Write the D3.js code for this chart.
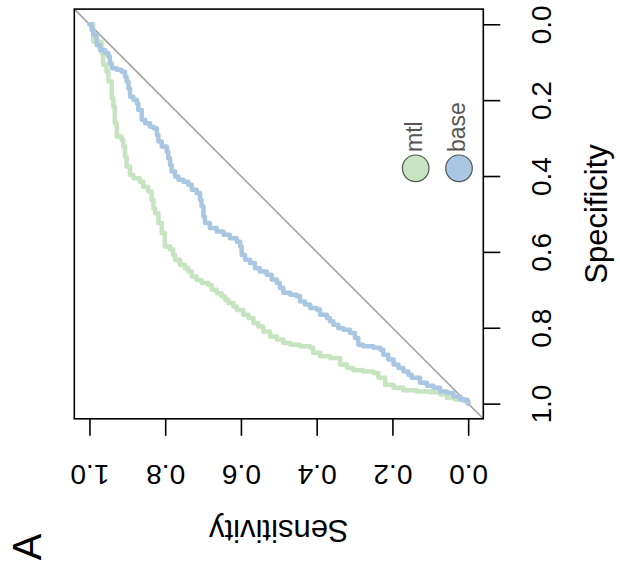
<!DOCTYPE html>
<html>
<head>
<meta charset="utf-8">
<script src="https://cdn.jsdelivr.net/npm/d3@7"></script>
<style>
  html, body { margin: 0; padding: 0; background: #fff; }
  svg { display: block; font-family: "Liberation Sans", Arial, Helvetica, sans-serif; }
</style>
</head>
<body>
<svg id="chart" width="620" height="571"></svg>
<script>
// ---- data (sensitivity, specificity) ----
const seriesNames = ["mtl", "base"];
const seriesColors = ["#c6e4bf", "#a9c7e2"];
const tickValues = [0, 0.2, 0.4, 0.6, 0.8, 1.0];

const mtlSens = [1.000,0.990,0.968,0.964,0.955,0.950,0.941,0.937,0.933,0.928,0.915,0.911,0.906,0.902,0.893,0.884,0.867,0.858,0.845,0.836,0.831,0.827,0.818,0.809,0.801,0.787,0.779,0.774,0.761,0.748,0.739,0.730,0.717,0.704,0.686,0.677,0.664,0.651,0.642,0.633,0.620,0.611,0.594,0.580,0.567,0.554,0.541,0.523,0.505,0.488,0.470,0.444,0.417,0.409,0.391,0.365,0.338,0.320,0.303,0.277,0.250,0.237,0.219,0.197,0.171,0.136,0.100,0.074,0.056,0.034,0.012,0.000];
const mtlSpec = [0.000,0.046,0.076,0.107,0.125,0.151,0.195,0.217,0.261,0.296,0.305,0.322,0.349,0.375,0.397,0.406,0.415,0.428,0.441,0.463,0.485,0.498,0.524,0.551,0.586,0.594,0.608,0.621,0.634,0.643,0.652,0.665,0.674,0.682,0.687,0.700,0.709,0.717,0.726,0.735,0.744,0.753,0.766,0.774,0.788,0.797,0.810,0.823,0.831,0.840,0.845,0.849,0.853,0.866,0.875,0.880,0.897,0.906,0.912,0.915,0.919,0.932,0.950,0.958,0.965,0.968,0.970,0.976,0.985,0.989,0.994,1.000];

const baseSens = [1.000,0.994,0.990,0.981,0.972,0.959,0.950,0.946,0.941,0.928,0.915,0.906,0.902,0.897,0.893,0.884,0.875,0.871,0.862,0.853,0.840,0.831,0.822,0.818,0.809,0.796,0.792,0.787,0.783,0.774,0.765,0.752,0.739,0.730,0.717,0.708,0.704,0.699,0.695,0.682,0.664,0.646,0.629,0.611,0.602,0.598,0.589,0.576,0.563,0.550,0.532,0.519,0.505,0.497,0.488,0.470,0.453,0.444,0.431,0.417,0.400,0.391,0.373,0.365,0.356,0.343,0.329,0.312,0.299,0.290,0.277,0.250,0.232,0.224,0.211,0.197,0.184,0.171,0.158,0.149,0.127,0.109,0.092,0.074,0.056,0.039,0.021,0.003,0.000];
const baseSpec = [0.000,0.015,0.028,0.055,0.068,0.076,0.085,0.103,0.116,0.120,0.125,0.138,0.151,0.169,0.191,0.199,0.208,0.226,0.252,0.261,0.270,0.274,0.292,0.309,0.322,0.336,0.353,0.371,0.388,0.401,0.410,0.415,0.423,0.436,0.445,0.463,0.480,0.507,0.524,0.537,0.546,0.555,0.564,0.573,0.586,0.608,0.621,0.629,0.643,0.652,0.660,0.673,0.682,0.695,0.708,0.713,0.717,0.731,0.739,0.748,0.752,0.766,0.774,0.783,0.792,0.801,0.805,0.814,0.827,0.845,0.849,0.853,0.858,0.871,0.884,0.897,0.906,0.915,0.924,0.932,0.945,0.953,0.958,0.968,0.972,0.981,0.989,0.994,1.000];

// ---- layout ----
const svg = d3.select("#chart");
svg.append("rect").attr("width", 620).attr("height", 571).attr("fill", "#fff");

const x = d3.scaleLinear().domain([1.04, -0.04]).range([74.3, 483.3]); // sensitivity
const y = d3.scaleLinear().domain([-0.04, 1.04]).range([9.1, 418.8]); // specificity

// diagonal
svg.append("line")
  .attr("x1", x(1.04)).attr("y1", y(-0.04))
  .attr("x2", x(-0.04)).attr("y2", y(1.04))
  .attr("stroke", "#a3a3a3").attr("stroke-width", 1.6);

const mkLine = d3.line().x(d => x(d[0])).y(d => y(d[1])).curve(d3.curveStepAfter);

const series = [
  { name: "mtl", pts: mtlSens.map((s, i) => [s, mtlSpec[i]]), color: seriesColors[0] },
  { name: "base", pts: baseSens.map((s, i) => [s, baseSpec[i]]), color: seriesColors[1] }
];
series.forEach(s => {
  svg.append("path").attr("d", mkLine(s.pts))
    .attr("fill", "none").attr("stroke", s.color)
    .attr("stroke-width", 4.5).attr("stroke-linejoin", "round").attr("stroke-linecap", "round");
});

// box
svg.append("rect")
  .attr("x", 74.3).attr("y", 9.1).attr("width", 483.3 - 74.3).attr("height", 418.8 - 9.1)
  .attr("fill", "none").attr("stroke", "#000").attr("stroke-width", 1.6);

// right axis (specificity)
const fmt = d3.format(".1f");
const gR = svg.append("g").attr("transform", "translate(483.3,0)")
  .call(d3.axisRight(y).tickValues(tickValues).tickSize(17).tickFormat(fmt));
gR.select(".domain").remove();
gR.selectAll(".tick line").attr("stroke", "#000").attr("stroke-width", 1.6);
gR.selectAll(".tick text")
  .attr("x", null).attr("dy", null).attr("y", null)
  .attr("transform", "translate(68,0) rotate(-90)")
  .attr("text-anchor", "middle")
  .attr("font-size", 28).attr("font-family", "Liberation Sans, Arial, sans-serif").attr("fill", "#000");

// bottom axis (sensitivity)
const gB = svg.append("g").attr("transform", "translate(0,418.8)")
  .call(d3.axisBottom(x).tickValues(tickValues).tickSize(17).tickFormat(fmt));
gB.select(".domain").remove();
gB.selectAll(".tick line").attr("stroke", "#000").attr("stroke-width", 1.6);
gB.selectAll(".tick text")
  .attr("x", null).attr("dy", null).attr("y", null)
  .attr("transform", "translate(0,46) rotate(180)")
  .attr("text-anchor", "middle")
  .attr("font-size", 28).attr("font-family", "Liberation Sans, Arial, sans-serif").attr("fill", "#000");

// axis titles
svg.append("text").text("Specificity")
  .attr("transform", `translate(607,${(y(0) + y(1)) / 2}) rotate(-90)`)
  .attr("text-anchor", "middle").attr("font-size", 31).attr("fill", "#000");
svg.append("text").text("Sensitivity")
  .attr("transform", `translate(${(x(0) + x(1)) / 2},520) rotate(180)`)
  .attr("text-anchor", "middle").attr("font-size", 31).attr("fill", "#000");

// panel label
svg.append("text").text("A")
  .attr("transform", "translate(41,547) rotate(-90)")
  .attr("text-anchor", "middle").attr("font-size", 40).attr("fill", "#000");

// legend
const legX = [415.7, 459];
seriesNames.forEach((n, i) => {
  svg.append("circle").attr("cx", legX[i]).attr("cy", 168.3).attr("r", 13.3)
    .attr("fill", seriesColors[i]).attr("stroke", "#555").attr("stroke-width", 1.2);
  svg.append("text").text(n)
    .attr("transform", `translate(${legX[i] + 6},152) rotate(-90)`)
    .attr("text-anchor", "start").attr("font-size", 23).attr("fill", "#555");
});
</script>
</body>
</html>
